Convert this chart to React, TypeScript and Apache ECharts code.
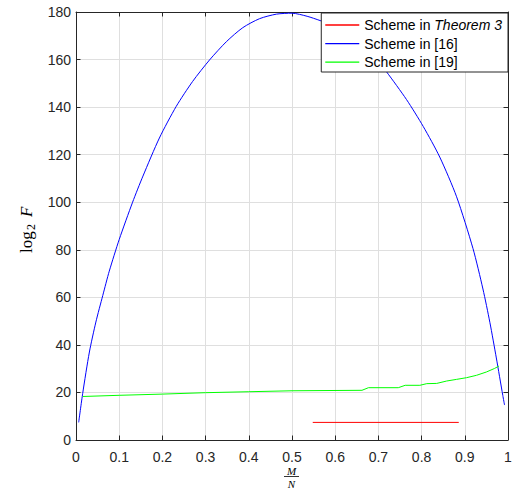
import React, { useEffect, useRef } from "react";
import * as echarts from "echarts";

// Blue: Scheme in [16]
const blueX = [0.0062, 0.0155, 0.031, 0.046, 0.062, 0.077, 0.1, 0.131, 0.155, 0.193, 0.232, 0.27, 0.309, 0.348, 0.386, 0.425, 0.464, 0.5, 0.535, 0.565, 0.6, 0.65, 0.7, 0.719, 0.765, 0.804, 0.842, 0.881, 0.919, 0.942, 0.958, 0.973, 0.988, 0.992];
const blueY = [7.4, 19.6, 37.0, 49.6, 60.8, 71.0, 84.3, 100.0, 111.0, 127.0, 140.3, 150.8, 159.8, 167.5, 173.4, 177.2, 179.1, 179.5, 178.2, 176.4, 174.0, 167.8, 159.0, 154.8, 143.2, 131.8, 119.0, 102.3, 80.5, 63.5, 49.5, 34.5, 18.7, 14.7];

// Green: Scheme in [19]
const greenX = [0.0155, 0.1, 0.2, 0.3, 0.4, 0.5, 0.662, 0.677, 0.746, 0.762, 0.796, 0.812, 0.835, 0.858, 0.881, 0.904, 0.927, 0.95, 0.969, 0.979];
const greenY = [18.3, 18.8, 19.3, 19.9, 20.3, 20.7, 20.9, 22.0, 22.0, 23.0, 23.0, 23.7, 23.8, 24.8, 25.5, 26.2, 27.2, 28.6, 30.1, 31.1];

// Red: Scheme in Theorem 3
const redX = [0.548, 0.886];
const redY = [7.4, 7.4];

const seriesNames = ["Scheme in Theorem 3", "Scheme in [16]", "Scheme in [19]"];
const seriesColors = ["#ff0000", "#0000ff", "#00ff00"];
const xTicks = { min: 0, max: 1, interval: 0.1 };
const yTicks = { min: 0, max: 180, interval: 20 };

const zip = (xs: number[], ys: number[]) => xs.map((x, i) => [x, ys[i]]);

const SANS = "'Liberation Sans', Arial, Helvetica, sans-serif";
const SERIF = "'Liberation Serif', 'Times New Roman', serif";
const AX = "#262626";
const GRID = "#dfdfdf";

export default function App() {
  const ref = useRef<HTMLDivElement>(null);
  useEffect(() => {
    if (!ref.current) return;
    const chart = echarts.init(ref.current, undefined, { renderer: "svg" });
    const baseX = {
      type: "value" as const,
      min: xTicks.min,
      max: xTicks.max,
      interval: xTicks.interval,
    };
    const baseY = {
      type: "value" as const,
      min: yTicks.min,
      max: yTicks.max,
      interval: yTicks.interval,
    };
    const tick = { show: true, inside: true, length: 4.5, lineStyle: { color: AX } };
    const line = { show: true, onZero: false, lineStyle: { color: AX, width: 1 } };
    chart.setOption({
      animation: false,
      backgroundColor: "#ffffff",
      grid: { left: 76, top: 12, right: 10, bottom: 55, containLabel: false },
      xAxis: [
        {
          ...baseX,
          position: "bottom",
          axisLine: line,
          axisTick: tick,
          axisLabel: {
            color: AX,
            fontSize: 14,
            fontFamily: SANS,
            margin: 10,
            formatter: (v: number) => (v === 0 ? "0" : v === 1 ? "1" : v.toFixed(1)),
          },
          splitLine: { show: true, lineStyle: { color: GRID, width: 1 } },
        },
        {
          ...baseX,
          position: "top",
          axisLine: line,
          axisTick: tick,
          axisLabel: { show: false },
          splitLine: { show: false },
        },
      ],
      yAxis: [
        {
          ...baseY,
          position: "left",
          axisLine: line,
          axisTick: tick,
          axisLabel: { color: AX, fontSize: 14, fontFamily: SANS, margin: 5 },
          splitLine: { show: true, lineStyle: { color: GRID, width: 1 } },
        },
        {
          ...baseY,
          position: "right",
          axisLine: line,
          axisTick: tick,
          axisLabel: { show: false },
          splitLine: { show: false },
        },
      ],
      legend: {
        show: true,
        orient: "vertical",
        right: 10,
        top: 13,
        backgroundColor: "#ffffff",
        borderColor: AX,
        borderWidth: 1,
        borderRadius: 0,
        padding: [2.7, 6, 0.5, 4],
        icon: "rect",
        itemWidth: 34,
        itemHeight: 1.3,
        itemGap: 0,
        data: seriesNames.map((name, i) => ({
          name,
          itemStyle: { color: seriesColors[i], borderWidth: 0 },
        })),
        formatter: (name: string) =>
          name === seriesNames[0] ? "Scheme in {i|Theorem 3}" : name,
        textStyle: {
          color: "#000000",
          fontSize: 14,
          fontFamily: SANS,
          lineHeight: 18.6,
          rich: {
            i: { fontStyle: "italic", fontSize: 14, fontFamily: SANS, color: "#000000", lineHeight: 18.6 },
          },
        },
      },
      series: [
        {
          name: seriesNames[0],
          type: "line",
          symbol: "none",
          data: zip(redX, redY),
          lineStyle: { color: seriesColors[0], width: 1 },
          itemStyle: { color: seriesColors[0] },
        },
        {
          name: seriesNames[1],
          type: "line",
          symbol: "none",
          smooth: 0.25,
          data: zip(blueX, blueY),
          lineStyle: { color: seriesColors[1], width: 1 },
          itemStyle: { color: seriesColors[1] },
        },
        {
          name: seriesNames[2],
          type: "line",
          symbol: "none",
          data: zip(greenX, greenY),
          lineStyle: { color: seriesColors[2], width: 1 },
          itemStyle: { color: seriesColors[2] },
        },
      ],
      graphic: [
        {
          type: "group",
          x: 26,
          y: 253,
          rotation: Math.PI / 2,
          children: [
            {
              type: "text",
              x: 0,
              y: 0,
              style: { text: "log", font: `17px ${SERIF}`, fill: "#000", verticalAlign: "middle", align: "left" },
            },
            {
              type: "text",
              x: 23,
              y: 5,
              style: { text: "2", font: `12px ${SERIF}`, fill: "#000", verticalAlign: "middle", align: "left" },
            },
            {
              type: "text",
              x: 36,
              y: 0,
              style: { text: "F", font: `italic 17px ${SERIF}`, fill: "#000", verticalAlign: "middle", align: "left" },
            },
          ],
        },
        {
          type: "text",
          x: 291.5,
          y: 470.5,
          style: { text: "M", font: `italic 11px ${SERIF}`, fill: "#000", align: "center", verticalAlign: "middle" },
        },
        {
          type: "line",
          shape: { x1: 284, y1: 476.5, x2: 299, y2: 476.5 },
          style: { stroke: "#000", lineWidth: 0.8 },
        },
        {
          type: "text",
          x: 291.5,
          y: 483.5,
          style: { text: "N", font: `italic 11px ${SERIF}`, fill: "#000", align: "center", verticalAlign: "middle" },
        },
      ],
    });
    return () => chart.dispose();
  }, []);
  return (
    <div
      ref={ref}
      style={{ position: "fixed", left: 0, top: 0, width: 518, height: 495, background: "#fff" }}
    />
  );
}
